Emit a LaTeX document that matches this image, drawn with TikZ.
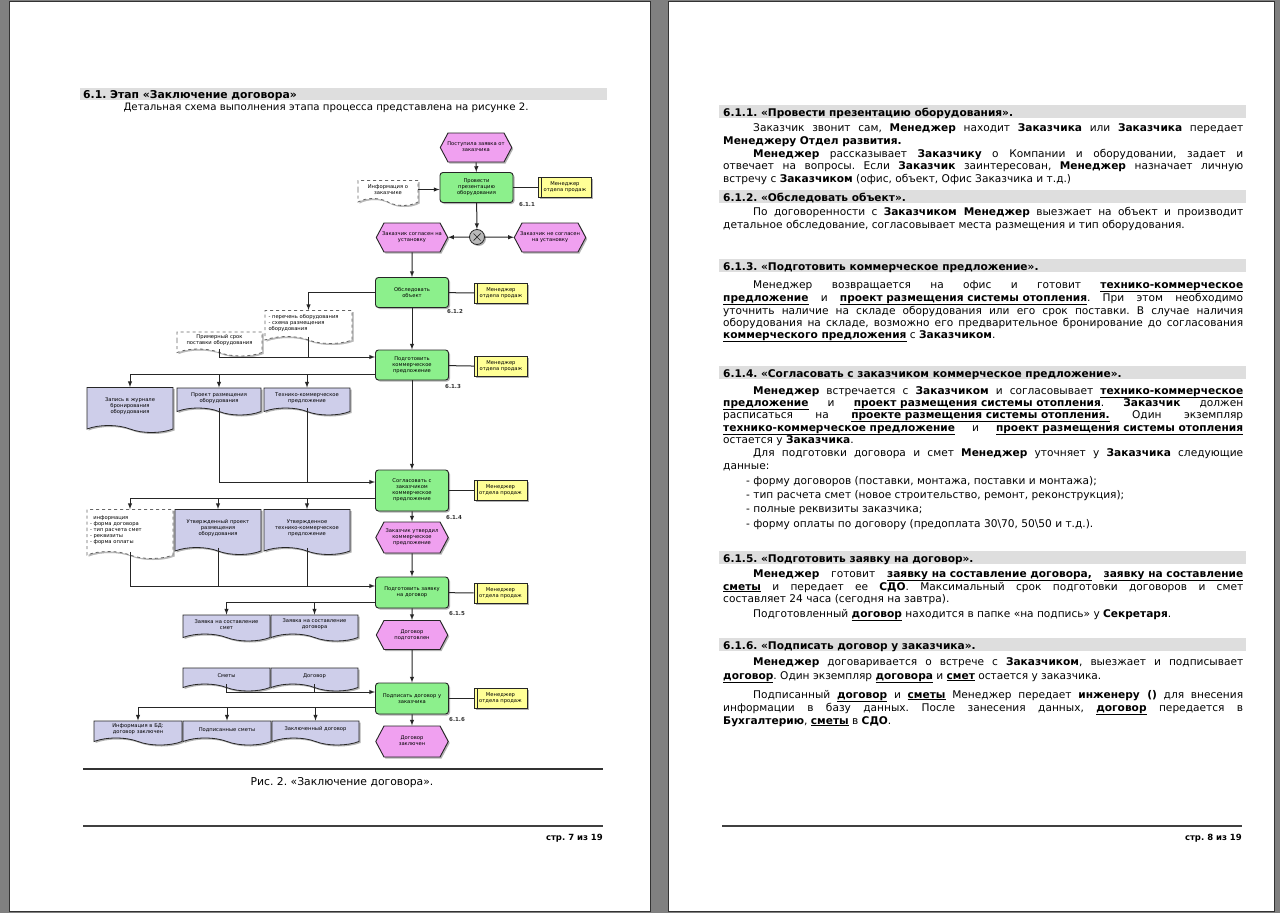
\documentclass[tikz,border=0pt]{standalone}
\usepackage{fontspec}
\usepackage{graphicx}
\setmainfont{DejaVu Sans}
\usetikzlibrary{shapes.symbols,shadows}
\frenchspacing

\definecolor{pagegray}{RGB}{128,128,128}
\definecolor{barfill}{RGB}{222,222,222}
\definecolor{fnfill}{RGB}{140,240,140}
\definecolor{evfill}{RGB}{240,160,240}
\definecolor{orgfill}{RGB}{255,255,150}
\definecolor{docfill}{RGB}{206,206,234}
\definecolor{xorfill}{RGB}{185,185,185}

\newcommand{\bodyfont}{\fontsize{10.2}{13}\selectfont}
\newcommand{\rfont}{\fontsize{10.6}{13}\selectfont}
\newcommand{\chartfont}{\fontsize{5.2}{6}\selectfont}
\newcommand{\ubf}[1]{\underline{\textbf{#1}}}
\newcommand{\evt}[1]{\makebox[54pt]{\begin{tabular}{@{}c@{}}#1\end{tabular}}}
\newsavebox{\jbox}
\newcommand{\jfit}[2]{\sbox{\jbox}{#2}\ifdim\wd\jbox>#1\relax\resizebox{#1}{\height}{\usebox{\jbox}}\else\makebox[#1][s]{#2}\fi}
\newcommand{\jl}[4]{\node[rtxt] (#1) at (#2) {\jfit{#3}{#4}};}
\newcommand{\pl}[3]{\node[rtxt] (#1) at (#2) {#3};}

\begin{document}
\begin{tikzpicture}[x=1pt, y=-1pt,
  txt/.style={anchor=base west, inner sep=0pt, font=\bodyfont},
  rtxt/.style={anchor=base west, inner sep=0pt, font=\rfont},
  shad/.style={drop shadow={shadow xshift=1.5pt, shadow yshift=-1.5pt, fill=black!60}},
  fn/.style={rectangle, rounded corners=3pt, draw=black!85, line width=0.9pt, fill=fnfill,
    minimum width=73pt, minimum height=30pt, text width=68pt, align=center, inner sep=1pt,
    font=\chartfont, shad},
  ev/.style={signal, signal to=west and east, signal pointer angle=124, draw=black!85,
    line width=0.9pt, fill=evfill, minimum height=29pt, inner sep=1pt, font=\chartfont, shad},
  org/.style={rectangle, draw=black!85, line width=0.8pt, fill=orgfill, minimum width=53pt,
    minimum height=20pt, text width=50pt, align=center, inner sep=1pt, font=\chartfont, shad,
    path picture={\draw[black!85] ([xshift=3pt]path picture bounding box.north west)
      -- ([xshift=3pt]path picture bounding box.south west);}},
  doc/.style={tape, tape bend top=none, tape bend bottom=out and in, tape bend height=7pt,
    draw=black!85, line width=0.8pt, fill=docfill, text width=80pt, align=center,
    inner sep=1pt, font=\chartfont, shad},
  docw/.style={doc, fill=white, dashed, draw=black!60,
    drop shadow={shadow xshift=1.5pt, shadow yshift=-1.5pt, fill=black!25}},
  xor/.style={circle, draw=black!85, line width=0.8pt, fill=xorfill, minimum size=15pt,
    inner sep=0pt, shad,
    path picture={\draw[black!85, line width=0.7pt]
      ([shift={(-3.5pt,-3.5pt)}]path picture bounding box.center) -- ([shift={(3.5pt,3.5pt)}]path picture bounding box.center)
      ([shift={(-3.5pt,3.5pt)}]path picture bounding box.center) -- ([shift={(3.5pt,-3.5pt)}]path picture bounding box.center);}},
  num/.style={font=\fontsize{5.5}{6}\selectfont\bfseries, inner sep=0pt, text=black!80},
  ln/.style={draw=black!85, line width=1pt},
  arr/.style={ln, -latex}]

\useasboundingbox (0,0) rectangle (1280,913);
\fill[pagegray] (0,0) rectangle (1280,913);
\filldraw[fill=white, draw=black!80, line width=1pt] (9,1) rectangle (650,911);
\filldraw[fill=white, draw=black!80, line width=1pt] (668,1) rectangle (1274,911);

% left page
\fill[barfill] (80,88) rectangle (607,100);
\node[txt, font=\fontsize{10.8}{13}\selectfont\bfseries] (lh) at (83,98) {6.1. Этап «Заключение договора»};
\node[txt, anchor=base] (lt) at (326,110) {Детальная схема выполнения этапа процесса представлена на рисунке 2.};

% chart nodes
\node[ev] (e1) at (476,147.5) {\evt{Поступила заявка от\\заказчика}};
\node[fn] (f1) at (476.5,187.5) {Провести\\презентацию\\оборудования};
\node[docw, minimum width=60pt, text width=56pt, minimum height=25pt] (dInfo) at (388,189.5) {Информация о\\заказчике};
\node[org] (o1) at (565,187.5) {Менеджер\\отдела продаж};
\node[num] (n1) at (527,204) {6.1.1};
\node[xor] (x1) at (477,237) {};
\node[ev] (e2) at (412,237.5) {\evt{Заказчик согласен на\\установку}};
\node[ev] (e3) at (550,237.5) {\evt{Заказчик не согласен\\на установку}};

\node[fn] (f2) at (412,292.5) {Обследовать\\объект};
\node[org] (o2) at (501,293) {Менеджер\\отдела продаж};
\node[num] (n2) at (455,311) {6.1.2};
\node[docw, minimum width=87pt, minimum height=33pt, align=left] (dPer) at (308.5,323.5) {- перечень оборудования\\- схема размещения\\оборудования};
\node[docw, minimum width=85pt, minimum height=24pt] (dSrok) at (219.5,340.5) {Примерный срок\\поставки оборудования};

\node[fn] (f3) at (412,365) {Подготовить\\коммерческое\\предложение};
\node[org] (o3) at (501,366.5) {Менеджер\\отдела продаж};
\node[num] (n3) at (453,386) {6.1.3};
\node[doc, minimum width=86pt, minimum height=45pt] (dZap) at (130,406.5) {Запись в журнале\\бронирования\\оборудования};
\node[doc, minimum width=84pt, minimum height=27pt] (dProj) at (219,398) {Проект размещения\\оборудования};
\node[doc, minimum width=86pt, minimum height=27pt] (dTkp) at (307,398) {Технико-коммерческое\\предложение};

\node[fn, minimum height=41pt] (f4) at (412,490.5) {Согласовать с\\заказчиком\\коммерческое\\предложение};
\node[org] (o4) at (500.5,490.5) {Менеджер\\отдела продаж};
\node[num] (n4) at (454,517) {6.1.4};
\node[docw, minimum width=86pt, minimum height=49pt, align=left] (dInf2) at (130,530.5) {\ \ информация\\- форма договора\\- тип расчета смет\\- реквизиты\\- форма оплаты};
\node[doc, minimum width=86pt, minimum height=45pt] (dUproj) at (218,528.5) {Утвержденный проект\\размещения\\оборудования};
\node[doc, minimum width=86pt, minimum height=45pt] (dUtkp) at (307,528.5) {Утвержденное\\технико-коммерческое\\предложение};
\node[ev, minimum height=31pt] (e4) at (412,537.5) {\evt{Заказчик утвердил\\коммерческое\\предложение}};

\node[fn, minimum height=31pt] (f5) at (412,592.5) {Подготовить заявку\\на договор};
\node[org] (o5) at (500.5,593) {Менеджер\\отдела продаж};
\node[num] (n5) at (457,613) {6.1.5};
\node[doc, minimum width=87pt, minimum height=26pt] (dZsm) at (226.5,624.5) {Заявка на составление\\смет};
\node[doc, minimum width=87pt, minimum height=26pt] (dZdog) at (314.5,624.5) {Заявка на составление\\договора};
\node[ev] (e5) at (412,635) {\evt{Договор\\подготовлен}};
\node[doc, minimum width=87pt, minimum height=23pt] (dSm) at (226.5,676) {Сметы};
\node[doc, minimum width=87pt, minimum height=23pt] (dDog) at (314.5,676) {Договор};

\node[fn, minimum height=31pt] (f6) at (412,698.5) {Подписать договор у\\заказчика};
\node[org] (o6) at (500.5,698.5) {Менеджер\\отдела продаж};
\node[num] (n6) at (457,719) {6.1.6};
\node[doc, minimum width=88pt, minimum height=24pt] (dBd) at (138,729.5) {Информация в БД:\\договор заключен};
\node[doc, minimum width=88pt, minimum height=24pt] (dPsm) at (227,729.5) {Подписанные сметы};
\node[doc, minimum width=87pt, minimum height=24pt] (dZakl) at (315.5,729.5) {Заключенный договор};
\node[ev, minimum height=31pt] (e6) at (412,741.5) {\evt{Договор\\заключен}};

% chart connectors
\draw[arr] (e1) -- (f1);
\draw[arr] (dInfo.east) -- (dInfo.east -| f1.west);
\draw[ln] (f1) -- (o1);
\draw[arr] (f1) -- (x1);
\draw[arr] (x1) -- (e2);
\draw[arr] (x1) -- (e3);
\draw[arr] (e2) -- (f2);
\draw[ln] (f2) -- (o2);
\draw[arr] (f2.west) -| (dPer.north);
\draw[arr] (f2) -- (f3);
\coordinate (m3) at ([yshift=8pt]f3.west);
\draw[arr] (dSrok.south) |- (m3);
\draw[ln] (dPer.south) -- (dPer.south |- m3);
\draw[ln] (f3) -- (o3);
\coordinate (b3) at ([yshift=-9pt]f3.west);
\draw[arr] (b3) -| (dZap.north);
\draw[arr] (b3 -| dProj.north) -- (dProj.north);
\draw[arr] (b3 -| dTkp.north) -- (dTkp.north);
\draw[arr] (f3) -- (f4);
\coordinate (m4) at ([yshift=8.5pt]f4.west);
\draw[arr] (dProj.south) |- (m4);
\draw[ln] (dTkp.south) -- (dTkp.south |- m4);
\draw[ln] (f4) -- (o4);
\coordinate (b4) at ([yshift=-7.5pt]f4.west);
\draw[arr] (b4) -| (dInf2.north);
\draw[arr] (b4 -| dUproj.north) -- (dUproj.north);
\draw[arr] (b4 -| dUtkp.north) -- (dUtkp.north);
\draw[arr] (f4) -- (e4);
\draw[arr] (e4) -- (f5);
\coordinate (m5) at ([yshift=6.5pt]f5.west);
\draw[arr] (dInf2.south) |- (m5);
\draw[ln] (dUproj.south) -- (dUproj.south |- m5);
\draw[ln] (dUtkp.south) -- (dUtkp.south |- m5);
\draw[ln] (f5) -- (o5);
\coordinate (b5) at ([yshift=-9.5pt]f5.west);
\draw[arr] (b5) -| (dZsm.north);
\draw[arr] (b5 -| dZdog.north) -- (dZdog.north);
\draw[arr] (f5) -- (e5);
\draw[arr] (e5) -- (f6);
\coordinate (m6) at ([yshift=6.5pt]f6.west);
\draw[arr] (dSm.south) |- (m6);
\draw[ln] (dDog.south) -- (dDog.south |- m6);
\draw[ln] (f6) -- (o6);
\coordinate (b6) at ([yshift=-8.5pt]f6.west);
\draw[arr] (b6) -| (dBd.north);
\draw[arr] (b6 -| dPsm.north) -- (dPsm.north);
\draw[arr] (b6 -| dZakl.north) -- (dZakl.north);
\draw[arr] (f6) -- (e6);

\draw[black!80, line width=1.3pt] (83,769) -- (603,769);
\node[txt, anchor=base, font=\fontsize{10.8}{13}\selectfont] (cap) at (342,785) {Рис. 2. «Заключение договора».};
\draw[black!75, line width=1.3pt] (83,826) -- (603,826);
\node[txt, anchor=base east, font=\fontsize{8.5}{10}\selectfont\bfseries] (pg7) at (603,840) {стр. 7 из 19};

% right page
\fill[barfill] (719,105) rectangle (1246,118);
\fill[barfill] (719,190) rectangle (1246,203);
\fill[barfill] (719,259) rectangle (1246,272);
\fill[barfill] (719,366) rectangle (1246,379);
\fill[barfill] (719,551) rectangle (1246,564);
\fill[barfill] (719,638) rectangle (1246,651);

\pl{h1}{723,116}{\textbf{6.1.1. «Провести презентацию оборудования».}}
\jl{t1}{753,131}{490pt}{Заказчик звонит сам, \textbf{Менеджер} находит \textbf{Заказчика} или \textbf{Заказчика} передает}
\pl{t2}{723,144}{\textbf{Менеджеру Отдел развития.}}
\jl{t3}{753,157}{490pt}{\textbf{Менеджер} рассказывает \textbf{Заказчику} о Компании и оборудовании, задает и}
\jl{t4}{723,169}{520pt}{отвечает на вопросы. Если \textbf{Заказчик} заинтересован, \textbf{Менеджер} назначает личную}
\pl{t5}{723,182}{встречу с \textbf{Заказчиком} (офис, объект, Офис Заказчика и т.д.)}

\pl{h2}{723,201}{\textbf{6.1.2. «Обследовать объект».}}
\jl{t6}{753,215}{490pt}{По договоренности с \textbf{Заказчиком Менеджер} выезжает на объект и производит}
\pl{t7}{723,228}{детальное обследование, согласовывает места размещения и тип оборудования.}

\pl{h3}{723,270}{\textbf{6.1.3. «Подготовить коммерческое предложение».}}
\jl{t8}{753,288}{490pt}{Менеджер возвращается на офис и готовит \ubf{технико-коммерческое}}
\jl{t9}{723,301}{520pt}{\ubf{предложение} и \ubf{проект размещения системы отопления}. При этом необходимо}
\jl{t10}{723,314}{520pt}{уточнить наличие на складе оборудования или его срок поставки. В случае наличия}
\jl{t11}{723,326}{520pt}{оборудования на складе, возможно его предварительное бронирование до согласования}
\pl{t12}{723,338}{\ubf{коммерческого предложения} с \textbf{Заказчиком}.}

\pl{h4}{723,377}{\textbf{6.1.4. «Согласовать с заказчиком коммерческое предложение».}}
\jl{t13}{753,394}{490pt}{\textbf{Менеджер} встречается с \textbf{Заказчиком} и согласовывает \ubf{технико-коммерческое}}
\jl{t14}{723,406}{520pt}{\ubf{предложение} и \ubf{проект размещения системы отопления}. \textbf{Заказчик} должен}
\jl{t15}{723,418}{520pt}{расписаться на \ubf{проекте размещения системы отопления.} Один экземпляр}
\jl{t16}{723,431}{520pt}{\ubf{технико-коммерческое предложение} и \ubf{проект размещения системы отопления}}
\pl{t17}{723,443}{остается у \textbf{Заказчика}.}
\jl{t18}{753,456}{490pt}{Для подготовки договора и смет \textbf{Менеджер} уточняет у \textbf{Заказчика} следующие}
\pl{t19}{723,469}{данные:}
\pl{t20}{746,484}{- форму договоров (поставки, монтажа, поставки и монтажа);}
\pl{t21}{746,498}{- тип расчета смет (новое строительство, ремонт, реконструкция);}
\pl{t22}{746,512}{- полные реквизиты заказчика;}
\pl{t23}{746,527}{- форму оплаты по договору (предоплата 30\textbackslash70, 50\textbackslash50 и т.д.).}

\pl{h5}{723,562}{\textbf{6.1.5. «Подготовить заявку на договор».}}
\jl{t24}{753,577}{490pt}{\textbf{Менеджер} готовит \ubf{заявку на составление договора,} \ubf{заявку на составление}}
\jl{t25}{723,590}{520pt}{\ubf{сметы} и передает ее \textbf{СДО}. Максимальный срок подготовки договоров и смет}
\pl{t26}{723,602}{составляет 24 часа (сегодня на завтра).}
\pl{t27}{753,617}{Подготовленный \ubf{договор} находится в папке «на подпись» у \textbf{Секретаря}.}

\pl{h6}{723,649}{\textbf{6.1.6. «Подписать договор у заказчика».}}
\jl{t28}{753,665}{490pt}{\textbf{Менеджер} договаривается о встрече с \textbf{Заказчиком}, выезжает и подписывает}
\pl{t29}{723,679}{\ubf{договор}. Один экземпляр \ubf{договора} и \ubf{смет} остается у заказчика.}
\jl{t30}{753,698}{490pt}{Подписанный \ubf{договор} и \ubf{сметы} Менеджер передает \textbf{инженеру ()} для внесения}
\jl{t31}{723,711}{520pt}{информации в базу данных. После занесения данных, \ubf{договор} передается в}
\pl{t32}{723,724}{\textbf{Бухгалтерию}, \ubf{сметы} в \textbf{СДО}.}

\draw[black!75, line width=1.3pt] (722,826) -- (1242,826);
\node[txt, anchor=base east, font=\fontsize{8.5}{10}\selectfont\bfseries] (pg8) at (1242,840) {стр. 8 из 19};
\end{tikzpicture}
\end{document}
